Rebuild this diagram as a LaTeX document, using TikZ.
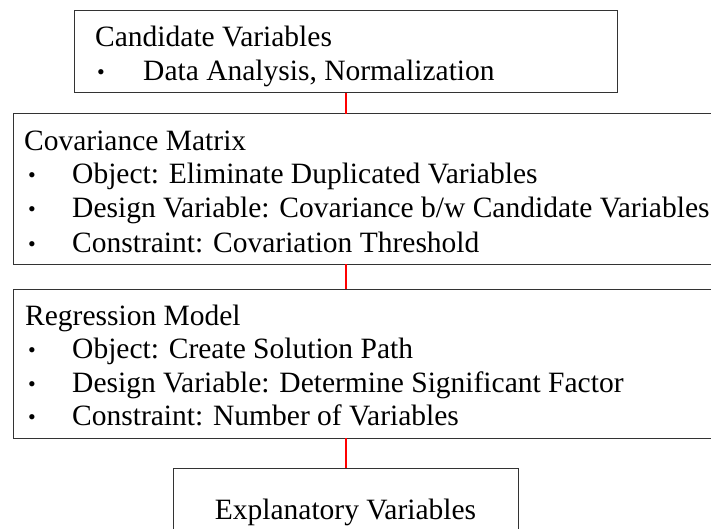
\documentclass[tikz,border=0pt]{standalone}
\usepackage{fontspec}
\setmainfont{Liberation Serif}
\definecolor{linkred}{RGB}{255,0,0}
\tikzset{
  stage/.style={draw=black!80, line width=1pt, inner sep=0pt, outer sep=0pt,
    anchor=north west},
  txt/.style={anchor=base west, inner sep=0pt, font=\fontsize{29.5}{34}\selectfont},
  dot/.style={anchor=base west, inner sep=0pt, font=\fontsize{22}{24}\selectfont},
  link/.style={draw=linkred, line width=2pt}
}

\begin{document}
\begin{tikzpicture}[x=1pt,y=-1pt]
\useasboundingbox (0,0) rectangle (711,529);
\clip (0,0) rectangle (711,529);
% boxes
\node[stage, minimum width=543pt, minimum height=82pt]  (cand) at (74,11) {};
\node[stage, minimum width=707pt, minimum height=150pt] (cov)  at (13,114) {};
\node[stage, minimum width=707pt, minimum height=149pt] (reg)  at (13,289) {};
\node[stage, minimum width=345pt, minimum height=90pt]  (expl) at (173,468) {};
% candidate variables
\node[txt] (cand-h) at (95,47) {Candidate Variables};
\node[dot] (cand-b1) at (97,80) {•};
\node[txt] (cand-i1) at (143,81) {Data Analysis, Normalization};
% covariance matrix
\node[txt] (cov-h) at (24,151) {Covariance Matrix};
\node[dot] (cov-b1) at (28,183) {•};
\node[txt] (cov-i1) at (72,184) {Object: Eliminate Duplicated Variables};
\node[dot] (cov-b2) at (28,217) {•};
\node[txt] (cov-i2) at (72,218) {Design Variable: Covariance b/w Candidate Variables};
\node[dot] (cov-b3) at (28,251) {•};
\node[txt] (cov-i3) at (72,252) {Constraint: Covariation Threshold};
% regression model
\node[txt] (reg-h) at (25,325) {Regression Model};
\node[dot] (reg-b1) at (28,357) {•};
\node[txt] (reg-i1) at (72,358) {Object: Create Solution Path};
\node[dot] (reg-b2) at (28,391) {•};
\node[txt] (reg-i2) at (72,392) {Design Variable: Determine Significant Factor};
\node[dot] (reg-b3) at (28,424) {•};
\node[txt] (reg-i3) at (72,425) {Constraint: Number of Variables};
% explanatory variables
\node[txt, anchor=base] (expl-h) at (345.5,519) {Explanatory Variables};
% links
\draw[link] (cand.south) -- (cand.south |- cov.north);
\draw[link] (cand.south |- cov.south) -- (cand.south |- reg.north);
\draw[link] (expl.north |- reg.south) -- (expl.north);
\end{tikzpicture}
\end{document}
